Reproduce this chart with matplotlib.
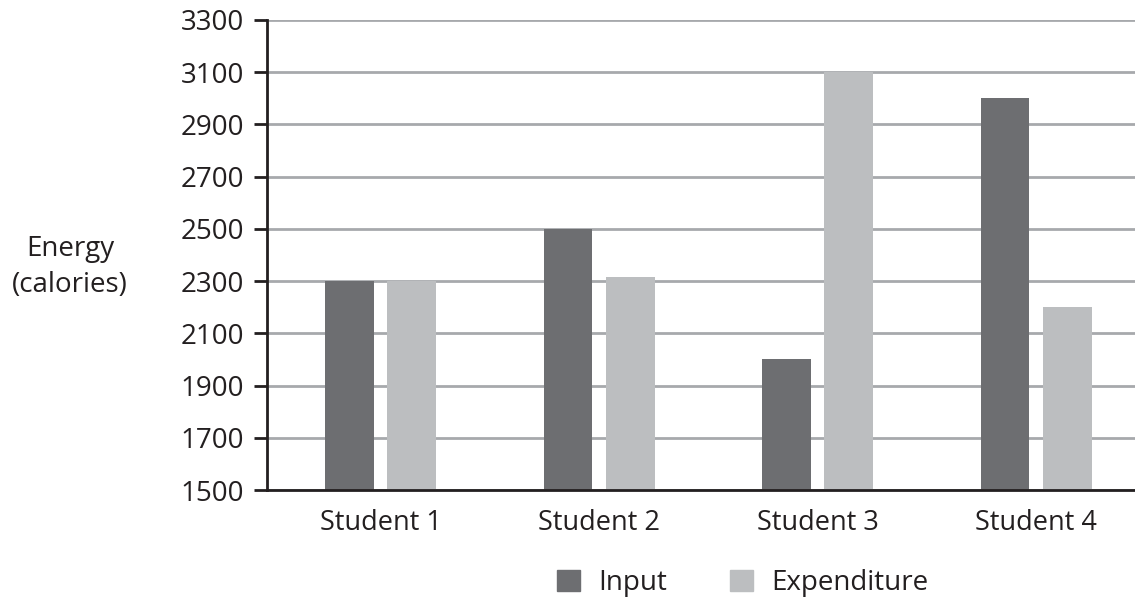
import matplotlib.pyplot as plt
import numpy as np
from matplotlib.patches import Patch

students = ["Student 1", "Student 2", "Student 3", "Student 4"]
input_cal = [2300, 2500, 2000, 3000]
expenditure_cal = [2300, 2315, 3100, 2200]
y_ticks = list(range(1500, 3301, 200))

DARK = "#6d6e71"
LIGHT = "#bcbec0"
GRID = "#a7a9ac"
INK = "#231f20"

plt.rcParams["font.family"] = ["Open Sans", "DejaVu Sans"]

fig = plt.figure(figsize=(11.35, 6), dpi=100)
ax = fig.add_axes([0.2352, 0.1833, 0.7648, 0.7834])

x = np.arange(len(students))
width = 0.224
offset = 0.142
ax.bar(x - offset, input_cal, width, color=DARK, zorder=3)
ax.bar(x + offset, expenditure_cal, width, color=LIGHT, zorder=3)

ax.set_ylim(1500, 3300)
ax.set_xlim(-0.52, 3.453)
ax.set_yticks(y_ticks)
ax.set_yticklabels([str(v) for v in y_ticks], fontsize=20, color=INK)
ax.set_xticks(x)
ax.set_xticklabels(students, fontsize=19.5, color=INK)
ax.tick_params(axis="x", length=0, pad=14)
ax.tick_params(axis="y", length=9.5, width=2, color=INK, pad=7)

ax.yaxis.grid(True, color=GRID, linewidth=2, zorder=0)
ax.set_axisbelow(True)
for side in ["top", "right"]:
    ax.spines[side].set_visible(False)
for side in ["left", "bottom"]:
    ax.spines[side].set_color(INK)
    ax.spines[side].set_linewidth(2)
    ax.spines[side].set_zorder(4)

fig.text(0.0617, 0.555, "Energy\n(calories)", ha="center", va="center",
         fontsize=20, color=INK, linespacing=1.4)

handles = [Patch(color=DARK, label="Input"), Patch(color=LIGHT, label="Expenditure")]
fig.legend(handles=handles, loc="center", bbox_to_anchor=(0.654, 0.028), ncol=2,
           frameon=False, fontsize=20, handlelength=0.83, handleheight=0.83,
           handletextpad=0.65, columnspacing=2.27, labelcolor=INK,
           borderpad=0, borderaxespad=0)

fig.savefig("out.png", dpi=100)
